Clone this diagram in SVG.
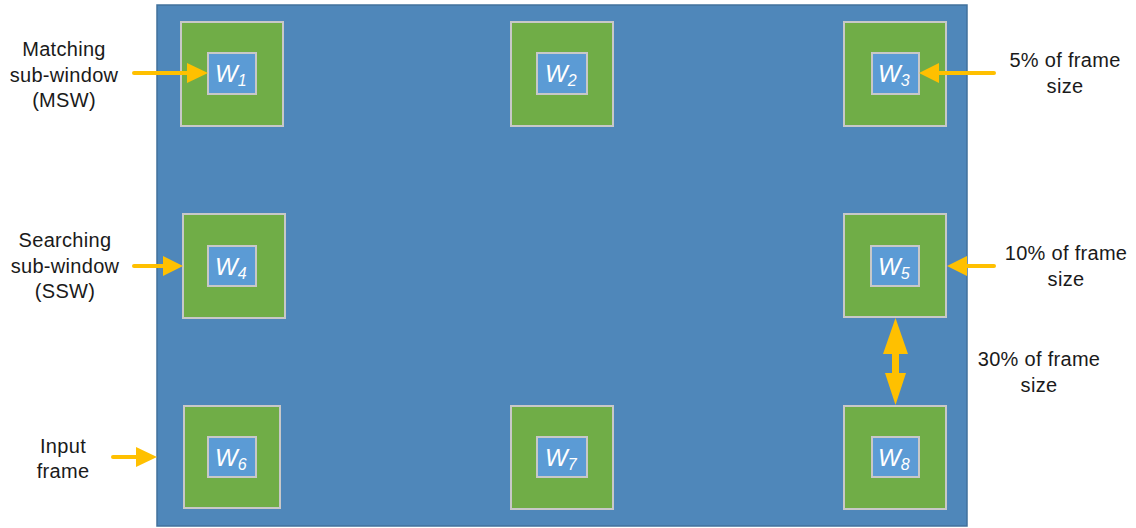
<svg xmlns="http://www.w3.org/2000/svg" width="1136" height="528" viewBox="0 0 1136 528">
<style>
.frame{fill:#4F87BA;stroke:#41719C;stroke-width:1.5}
.ssw{fill:#70AD47;stroke:#C8C8C8;stroke-width:2}
.msw{fill:#5B9BD5;stroke:#C8C8C8;stroke-width:2}
.wl{font-family:"Liberation Sans",Arial,sans-serif;font-style:italic;fill:#FFFFFF;font-size:24px}
.sub{font-size:16px}
.lbl{font-family:"Liberation Sans",Arial,sans-serif;font-size:20px;fill:#1A1A1A;text-anchor:middle;letter-spacing:0.3px}
.arr{stroke:#FFC000;stroke-width:4;stroke-linecap:round;fill:none}
.head{fill:#FFC000}
</style>
<rect width="1136" height="528" fill="#FFFFFF"/>
<g id="frame"><rect class="frame" x="157" y="5" width="810" height="521"/></g>

<g id="n1"><rect class="ssw" x="181" y="22" width="102" height="104"/><rect class="msw" x="208" y="53" width="48" height="41"/><text class="wl" x="215" y="82">W<tspan class="sub" dy="4">1</tspan></text></g>
<g id="n2"><rect class="ssw" x="511" y="22" width="102" height="104"/><rect class="msw" x="537" y="53" width="50" height="41"/><text class="wl" x="545" y="82">W<tspan class="sub" dy="4">2</tspan></text></g>
<g id="n3"><rect class="ssw" x="844" y="22" width="102" height="104"/><rect class="msw" x="872" y="53" width="47" height="41"/><text class="wl" x="878" y="82">W<tspan class="sub" dy="4">3</tspan></text></g>
<g id="n4"><rect class="ssw" x="183" y="214" width="102" height="104"/><rect class="msw" x="208" y="246" width="48" height="40"/><text class="wl" x="215" y="275">W<tspan class="sub" dy="4">4</tspan></text></g>
<g id="n5"><rect class="ssw" x="844" y="214" width="102" height="103"/><rect class="msw" x="871" y="246" width="48" height="40"/><text class="wl" x="878" y="275">W<tspan class="sub" dy="4">5</tspan></text></g>
<g id="n6"><rect class="ssw" x="184" y="406" width="96" height="102"/><rect class="msw" x="208" y="437" width="48" height="40"/><text class="wl" x="215" y="466">W<tspan class="sub" dy="4">6</tspan></text></g>
<g id="n7"><rect class="ssw" x="511" y="406" width="102" height="103"/><rect class="msw" x="537" y="437" width="50" height="40"/><text class="wl" x="545" y="466">W<tspan class="sub" dy="4">7</tspan></text></g>
<g id="n8"><rect class="ssw" x="844" y="406" width="102" height="103"/><rect class="msw" x="872" y="437" width="47" height="40"/><text class="wl" x="878" y="466">W<tspan class="sub" dy="4">8</tspan></text></g>

<g id="connectors">
<line class="arr" x1="134" y1="73" x2="190" y2="73"/><polygon class="head" points="208,73 187,63 187,83"/>
<line class="arr" x1="994" y1="73" x2="935" y2="73"/><polygon class="head" points="919,73 939,63 939,83"/>
<line class="arr" x1="134" y1="266" x2="166" y2="266"/><polygon class="head" points="183,266 163,256 163,276"/>
<line class="arr" x1="994" y1="266" x2="964" y2="266"/><polygon class="head" points="947,266 967,256 967,276"/>
<line class="arr" x1="113" y1="457" x2="139" y2="457"/><polygon class="head" points="157,457 136,447 136,467"/>
<line stroke="#FFC000" stroke-width="7" x1="895.5" y1="350" x2="895.5" y2="378"/>
<polygon class="head" points="895.5,318 883,354 908,354"/>
<polygon class="head" points="895.5,405 885,373 906,373"/>
</g>

<g id="labels">
<text class="lbl" x="64" y="56">Matching</text>
<text class="lbl" x="64" y="82">sub-window</text>
<text class="lbl" x="64" y="107">(MSW)</text>
<text class="lbl" x="65" y="247">Searching</text>
<text class="lbl" x="65" y="273">sub-window</text>
<text class="lbl" x="65" y="298">(SSW)</text>
<text class="lbl" x="63" y="453">Input</text>
<text class="lbl" x="63" y="478">frame</text>
<text class="lbl" x="1065" y="67">5% of frame</text>
<text class="lbl" x="1065" y="93">size</text>
<text class="lbl" x="1066" y="260">10% of frame</text>
<text class="lbl" x="1066" y="286">size</text>
<text class="lbl" x="1039" y="366">30% of frame</text>
<text class="lbl" x="1039" y="392">size</text>
</g>
</svg>
